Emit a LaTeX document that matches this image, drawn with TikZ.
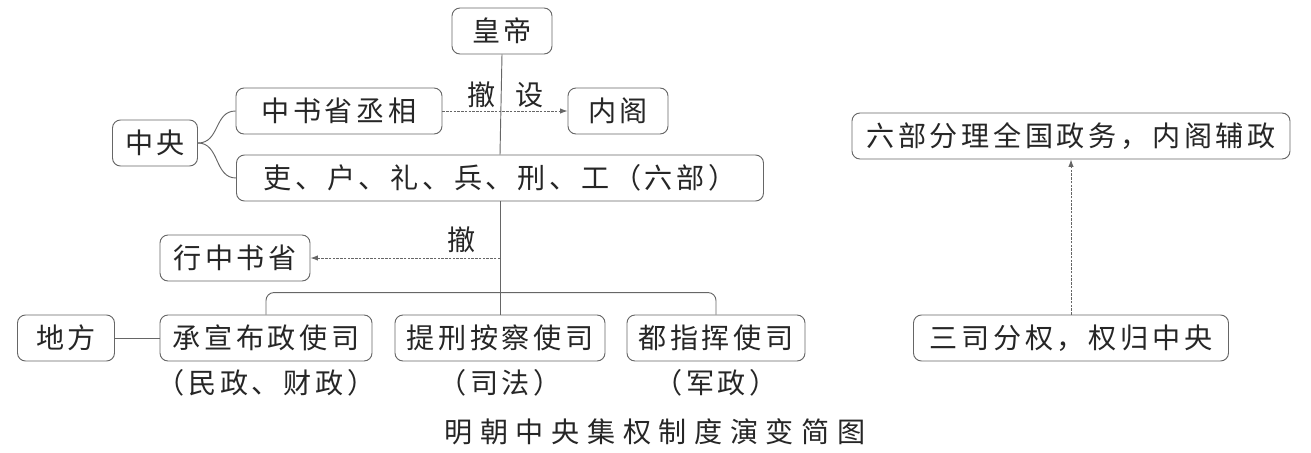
\documentclass[tikz,border=0pt]{standalone}
\usepackage{fontspec}
\usetikzlibrary{arrows.meta}
\newfontfamily\cjk[LetterSpace=13]{Noto Sans CJK SC}
\newfontfamily\cjktitle[LetterSpace=27]{Noto Sans CJK SC}
\begin{document}
\begin{tikzpicture}[x=0.3mm,y=-0.3mm,
  box/.style={draw=black!60,line width=0.8pt,rounded corners=2.4mm,fill=white,
    minimum width=#1*0.3mm,minimum height=13.8mm,inner sep=0pt,
    font=\cjk\fontsize{24}{28}\selectfont,text=black!85},
  link/.style={draw=black!60,line width=0.8pt},
  dotarrow/.style={link,dash pattern=on 2pt off 1.2pt,-{Latex[length=2.2mm,width=1.6mm]}},
  lbl/.style={font=\cjk\fontsize{24}{28}\selectfont,text=black!85}]
\useasboundingbox (0,0) rectangle (1311,452);
\node[box=100] (huangdi) at (502,31) {皇帝};
\node[box=206] (zhongshu) at (339,111) {中书省丞相};
\node[box=100] (neige) at (618,111) {内阁};
\node[box=85] (zhongyang) at (155,143) {中央};
\node[box=527] (liubu) at (500,178) {吏、户、礼、兵、刑、工（六部）};
\node[box=150] (xing) at (235,258) {行中书省};
\node[box=97] (difang) at (66,338) {地方};
\node[box=212] (chengxuan) at (266,338) {承宣布政使司};
\node[box=210] (tixing) at (500,338) {提刑按察使司};
\node[box=178] (duzhi) at (716,338) {都指挥使司};
\node[box=438] (liubufenli) at (1071,136) {六部分理全国政务，内阁辅政};
\node[box=315] (sansi) at (1071,338) {三司分权，权归中央};
\node[lbl] (che1) at (482,95) {撤};
\node[lbl] (she) at (530,95) {设};
\node[lbl] (che2) at (462,240) {撤};
\node[lbl] (cap1) at (266,383) {（民政、财政）};
\node[lbl] (cap2) at (500,383) {（司法）};
\node[lbl] (cap3) at (716,383) {（军政）};
\node[font=\cjktitle\fontsize{24}{28}\selectfont,text=black!85] (title) at (655,432) {明朝中央集权制度演变简图};
\draw[link] (huangdi.south) -- (liubu.north);
\draw[link] (liubu.south) -- (tixing.north);
\draw[dotarrow] (zhongshu.east) -- (neige.west);
\draw[dotarrow] (tixing.north |- xing.east) -- (xing.east);
\draw[link] (zhongyang.east) .. controls (220,143) and (214,111) .. (zhongshu.west);
\draw[link] (zhongyang.east) .. controls (220,143) and (214,178) .. (liubu.west);
\draw[link,rounded corners=2.4mm] (chengxuan.north) -- ++(0,-22) -| (duzhi.north);
\draw[link] (difang.east) -- (chengxuan.west);
\draw[dotarrow] (sansi.north) -- (sansi.north |- liubufenli.south);
\end{tikzpicture}
\end{document}
